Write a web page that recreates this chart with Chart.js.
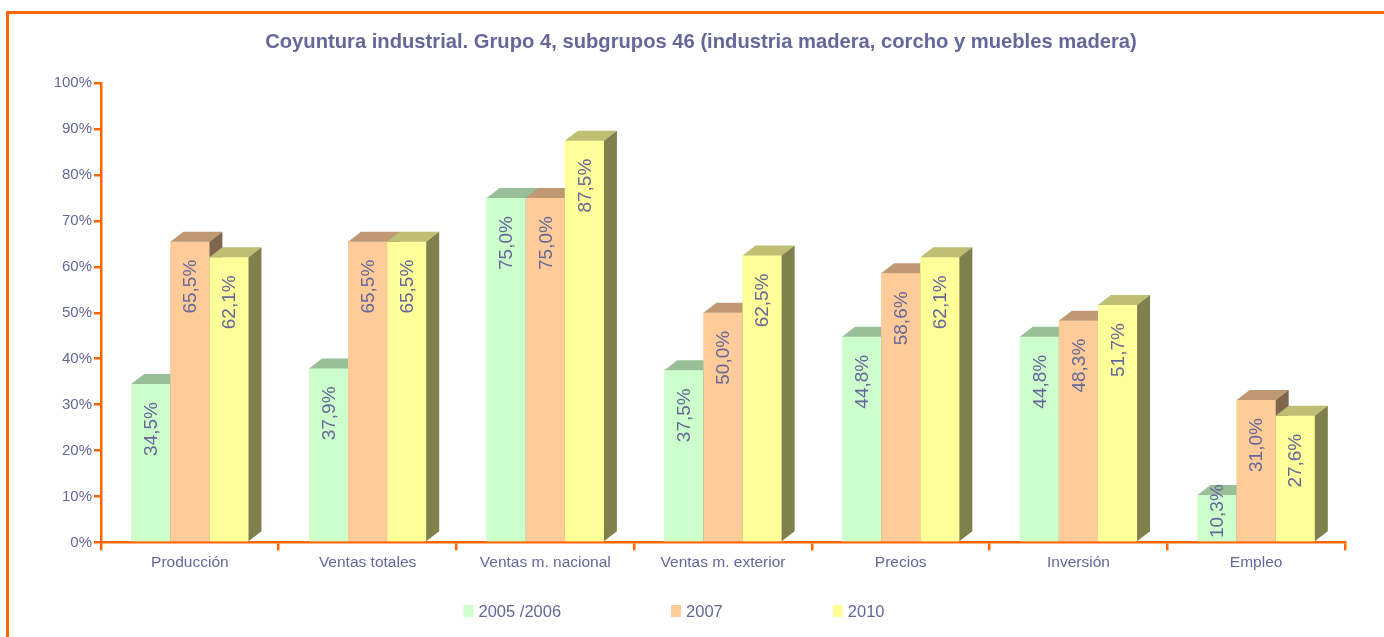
<!DOCTYPE html>
<html>
<head>
<meta charset="utf-8">
<script src="https://cdn.jsdelivr.net/npm/chart.js@4/dist/chart.umd.min.js"></script>
<style>
  html, body { margin: 0; padding: 0; background: #fff; overflow: hidden; }
  #marco { position: absolute; left: 6px; top: 11px; width: 1500px; height: 700px;
           border-top: 3px solid #FF6600; border-left: 3px solid #FF6600; pointer-events: none; }
  canvas { position: absolute; left: 0; top: 0; }
</style>
</head>
<body>
<canvas id="grafico" width="1384" height="637"></canvas>
<div id="marco"></div>
<script>
const titulo = 'Coyuntura industrial. Grupo 4, subgrupos 46 (industria madera, corcho y muebles madera)';
const categorias = ['Producción', 'Ventas totales', 'Ventas m. nacional', 'Ventas m. exterior', 'Precios', 'Inversión', 'Empleo'];
const serie2005 = [34.5, 37.9, 75.0, 37.5, 44.8, 44.8, 10.3];
const serie2007 = [65.5, 65.5, 75.0, 50.0, 58.6, 48.3, 31.0];
const serie2010 = [62.1, 65.5, 87.5, 62.5, 62.1, 51.7, 27.6];
const nombresSeries = ['2005 /2006', '2007', '2010'];

const naranja = '#FF6600';
const texto = '#666699';
// cara frontal, superior y lateral de cada serie
const colores = [
  ['#CCFFCC', '#99BF99', '#668066'],
  ['#FFCC99', '#BF9973', '#80664D'],
  ['#FFFF99', '#BFBF73', '#80804D']
];
const fondo = 13, alto = 10;

// Dibuja las barras en 3D y las etiquetas giradas
const barras3d = {
  id: 'barras3d',
  afterDatasetsDraw(chart) {
    const ctx = chart.ctx;
    const metas = chart.data.datasets.map((d, i) => chart.getDatasetMeta(i));
    ctx.save();
    for (let i = 0; i < categorias.length; i++) {
      metas.forEach((meta, d) => {
        const b = meta.data[i];
        const x1 = b.x - b.width / 2, x2 = b.x + b.width / 2;
        const y = b.y, base = b.base;
        ctx.fillStyle = colores[d][0];
        ctx.fillRect(x1, y, x2 - x1, base - y);
        ctx.fillStyle = colores[d][1];
        ctx.beginPath();
        ctx.moveTo(x1, y); ctx.lineTo(x2, y);
        ctx.lineTo(x2 + fondo, y - alto); ctx.lineTo(x1 + fondo, y - alto);
        ctx.closePath(); ctx.fill();
        ctx.fillStyle = colores[d][2];
        ctx.beginPath();
        ctx.moveTo(x2, y); ctx.lineTo(x2 + fondo, y - alto);
        ctx.lineTo(x2 + fondo, base - alto); ctx.lineTo(x2, base);
        ctx.closePath(); ctx.fill();
      });
    }
    ctx.fillStyle = texto;
    ctx.font = '19px "Liberation Sans", Arial, sans-serif';
    ctx.textAlign = 'center';
    ctx.textBaseline = 'middle';
    metas.forEach((meta, d) => {
      meta.data.forEach((b, i) => {
        const v = chart.data.datasets[d].data[i];
        const cy = Math.min(b.y + 45, b.base - 30);
        ctx.save();
        ctx.translate(b.x, cy);
        ctx.rotate(-Math.PI / 2);
        ctx.fillText(v.toFixed(1).replace('.', ',') + '%', 0, 1);
        ctx.restore();
      });
    });
    ctx.restore();
  }
};

// Leyenda propia, con mucho espacio entre elementos
const leyenda = {
  id: 'leyenda',
  afterDraw(chart) {
    const ctx = chart.ctx;
    ctx.save();
    ctx.font = '16.5px "Liberation Sans", Arial, sans-serif';
    ctx.textBaseline = 'middle';
    const hueco = 110;
    const anchos = nombresSeries.map(n => 10 + 5 + ctx.measureText(n).width);
    const total = anchos.reduce((a, b) => a + b, 0) + hueco * (anchos.length - 1);
    let x = 674 - total / 2;
    const y = 611;
    nombresSeries.forEach((n, i) => {
      ctx.fillStyle = colores[i][0];
      ctx.fillRect(x, y - 6, 10, 12);
      ctx.fillStyle = texto;
      ctx.fillText(n, x + 15, y + 1);
      x += anchos[i] + hueco;
    });
    ctx.restore();
  }
};

new Chart(document.getElementById('grafico'), {
  type: 'bar',
  data: {
    labels: categorias,
    datasets: [
      { label: nombresSeries[0], data: serie2005, backgroundColor: colores[0][0], yAxisID: 'y' },
      { label: nombresSeries[1], data: serie2007, backgroundColor: colores[1][0], yAxisID: 'y' },
      { label: nombresSeries[2], data: serie2010, backgroundColor: colores[2][0], yAxisID: 'y' }
    ]
  },
  options: {
    responsive: false,
    animation: false,
    barPercentage: 1,
    categoryPercentage: 0.66,
    layout: { padding: { left: 18, right: 0, top: 0, bottom: 62 } },
    scales: {
      x: {
        grid: { drawOnChartArea: false, color: naranja, lineWidth: 2.5, tickLength: 8, offset: true },
        border: { color: naranja, width: 2.5 },
        ticks: { color: texto, font: { family: '"Liberation Sans", Arial', size: 15.5 }, padding: 3 }
      },
      y: {
        min: 0, max: 100,
        afterFit(scale) { scale.width = 83; },
        grid: { drawOnChartArea: false, color: naranja, lineWidth: 2.5, tickLength: 7 },
        border: { color: naranja, width: 2.5 },
        ticks: {
          stepSize: 10, padding: 2, color: texto,
          font: { family: '"Liberation Sans", Arial', size: 15 },
          callback: v => v + '%'
        }
      },
      // eje vacío a la derecha, solo para dejar margen
      margen: {
        type: 'linear', position: 'right',
        afterFit(scale) { scale.width = 39; },
        grid: { display: false },
        border: { display: false },
        ticks: { display: false }
      }
    },
    plugins: {
      legend: { display: false },
      tooltip: { enabled: false },
      title: {
        display: true, text: titulo, color: texto,
        font: { family: '"Liberation Sans", Arial', size: 20.2, weight: 'bold' },
        padding: { top: 30, bottom: 29 }
      }
    }
  },
  plugins: [barras3d, leyenda]
});
</script>
</body>
</html>
